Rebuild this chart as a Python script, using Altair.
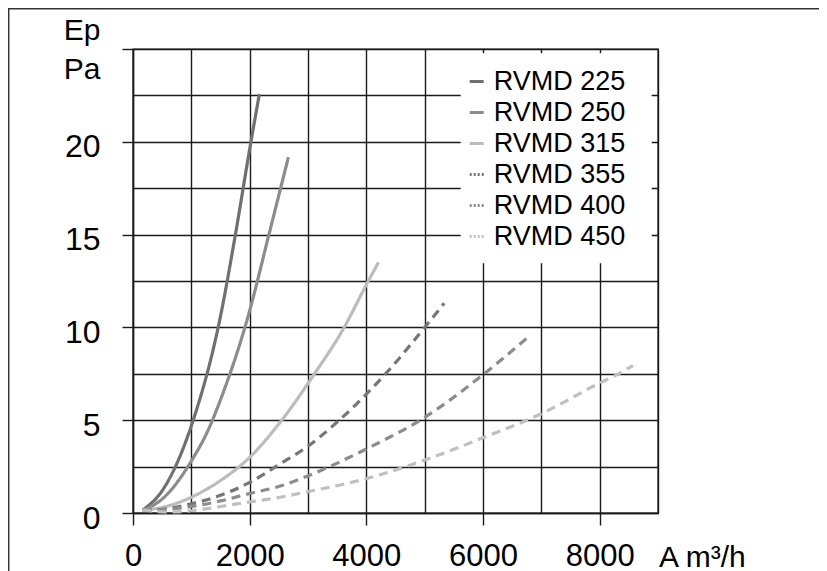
import altair as alt
import pandas as pd

series = ["RVMD 225", "RVMD 250", "RVMD 315", "RVMD 355", "RVMD 400", "RVMD 450"]
colors = ["#707070", "#8c8c8c", "#bcbcbc", "#767676", "#8c8c8c", "#c0c0c0"]
dashes = [[1, 0], [1, 0], [1, 0], [9, 6], [9, 6], [9, 6]]
legend_dashes = [[1, 0], [1, 0], [1, 0], [2, 2], [2, 2], [2, 2]]
legend_widths = [3, 3, 3, 1.5, 1.5, 1.5]

flow_225 = [166, 500, 1000, 1500, 1750, 2000, 2166]
pa_225 = [0.16, 1.2, 4.7, 10.6, 14.9, 19.6, 22.57]
flow_250 = [166, 500, 1000, 1300, 1500, 2000, 2330, 2664]
pa_250 = [0.16, 0.75, 2.8, 4.55, 6.1, 10.9, 15.0, 19.17]
flow_315 = [166, 500, 1000, 1500, 2000, 2550, 3100, 3620, 4000, 4208]
pa_315 = [0.16, 0.3, 0.85, 1.75, 3.0, 5.0, 7.45, 10.0, 12.3, 13.5]
flow_355 = [166, 500, 1000, 1500, 2000, 2525, 3000, 3500, 4000, 4500, 5000, 5334]
pa_355 = [0.16, 0.2, 0.5, 0.95, 1.65, 2.65, 3.6, 4.9, 6.4, 8.1, 10.0, 11.3]
flow_400 = [166, 500, 1000, 1500, 2000, 2525, 3000, 4000, 5000, 6000, 6770]
pa_400 = [0.16, 0.18, 0.35, 0.65, 1.05, 1.45, 2.0, 3.45, 5.15, 7.45, 9.47]
flow_450 = [166, 600, 1000, 1500, 2000, 2525, 3000, 4000, 5000, 6000, 7000, 8000, 8325, 8571]
pa_450 = [0.16, 0.05, 0.12, 0.35, 0.6, 0.85, 1.15, 1.85, 2.85, 4.05, 5.35, 7.0, 7.5, 7.94]

x_ticks = list(range(0, 9001, 1000))
y_ticks = [i * 2.5 for i in range(11)]

flows = [flow_225, flow_250, flow_315, flow_355, flow_400, flow_450]
pas = [pa_225, pa_250, pa_315, pa_355, pa_400, pa_450]
rows = []
for name, fx, fy in zip(series, flows, pas):
    for a, b in zip(fx, fy):
        rows.append({"serie": name, "flow": a, "pa": b})
df = pd.DataFrame(rows)

FONT = "Liberation Sans, Arial, Helvetica, sans-serif"
GRID = "#1a1a1a"

x_axis = alt.Axis(
    values=x_ticks,
    grid=True, gridColor=GRID, gridWidth=1.4, gridOpacity=1,
    domainColor=GRID, domainWidth=1.4,
    tickColor=GRID, tickWidth=1.4, tickSize=12,
    tickOpacity={"condition": {"test": "datum.value % 2000 === 0", "value": 1}, "value": 0},
    labelExpr="datum.value % 2000 === 0 ? datum.label : ''",
    format="d",
    labelFont=FONT, labelFontSize=31, labelColor="black", labelPadding=16,
    labelFlush=False, labelOverlap=False,
    title="A m³/h", titleFont=FONT, titleFontSize=30, titleFontWeight="normal",
    titleColor="black", titleAlign="left", titleBaseline="alphabetic",
    titleAnchor="start", titleX=525.5, titleY=53,
)
y_axis = alt.Axis(
    values=y_ticks,
    grid=True, gridColor=GRID, gridWidth=1.4, gridOpacity=1,
    domainColor=GRID, domainWidth=1.4,
    tickColor=GRID, tickWidth=1.4, tickSize=11,
    tickOpacity={"condition": {"test": "datum.value % 5 === 0", "value": 1}, "value": 0},
    labelExpr="(datum.value % 5 === 0 && datum.value < 25) ? datum.label : ''",
    format="d",
    labelFont=FONT, labelFontSize=32, labelColor="black", labelPadding=22,
    labelOffset=5, labelFlush=False, labelOverlap=False,
    title=["Ep", "Pa"], titleFont=FONT, titleFontSize=30, titleFontWeight="normal",
    titleColor="black", titleAngle=0, titleAlign="right", titleBaseline="alphabetic",
    titleAnchor="start", titleX=-33, titleY=-9.7, titleLineHeight=39,
)

xs = alt.Scale(domain=[0, 9000], nice=False, zero=True)
ys = alt.Scale(domain=[0, 25], nice=False, zero=True)

lines = alt.Chart(df).mark_line(strokeWidth=3.2, interpolate="monotone").encode(
    x=alt.X("flow:Q", scale=xs, axis=x_axis),
    y=alt.Y("pa:Q", scale=ys, axis=y_axis),
    color=alt.Color("serie:N", scale=alt.Scale(domain=series, range=colors), legend=None),
    strokeDash=alt.StrokeDash("serie:N", scale=alt.Scale(domain=series, range=dashes), legend=None),
)

legend = alt.Legend(
    title=None, orient="none", legendX=330.2, legendY=19.0,
    symbolType="stroke", symbolSize=196, symbolOpacity=1,
    labelFont=FONT, labelFontSize=27, labelColor="black", labelOffset=3.5,
    rowPadding=3.0, padding=0, labelLimit=400,
)

legend_src = alt.Chart(df).transform_filter("false").mark_line().encode(
    x=alt.X("flow:Q", scale=xs, axis=x_axis),
    y=alt.Y("pa:Q", scale=ys, axis=y_axis),
    color=alt.Color("serie:N", scale=alt.Scale(domain=series, range=colors), legend=legend),
    strokeDash=alt.StrokeDash("serie:N", scale=alt.Scale(domain=series, range=legend_dashes), legend=legend),
    strokeWidth=alt.StrokeWidth("serie:N", scale=alt.Scale(domain=series, range=legend_widths), legend=legend),
)

legend_box = alt.Chart(alt.Data(values=[{}])).mark_rect(fill="white").encode(
    x=alt.value(327.7), x2=alt.value(518.7), y=alt.value(4.3), y2=alt.value(214.3)
)

frame = alt.Chart(alt.Data(values=[{}])).mark_rect(filled=False, stroke="#333333", strokeWidth=1.5).encode(
    x=alt.value(-124.3), x2=alt.value(800), y=alt.value(-40.3), y2=alt.value(600)
)

chart = alt.layer(legend_box, lines, legend_src, frame).resolve_scale(
    color="independent", strokeDash="independent", strokeWidth="independent"
).properties(
    width=525, height=464,
    padding={"left": 125, "top": 41, "right": 161, "bottom": 58},
    autosize=alt.AutoSizeParams(type="none"),
).configure_view(stroke=GRID, strokeWidth=1.4)

chart.save("out.html", embed_options={"renderer": "svg", "actions": False})
